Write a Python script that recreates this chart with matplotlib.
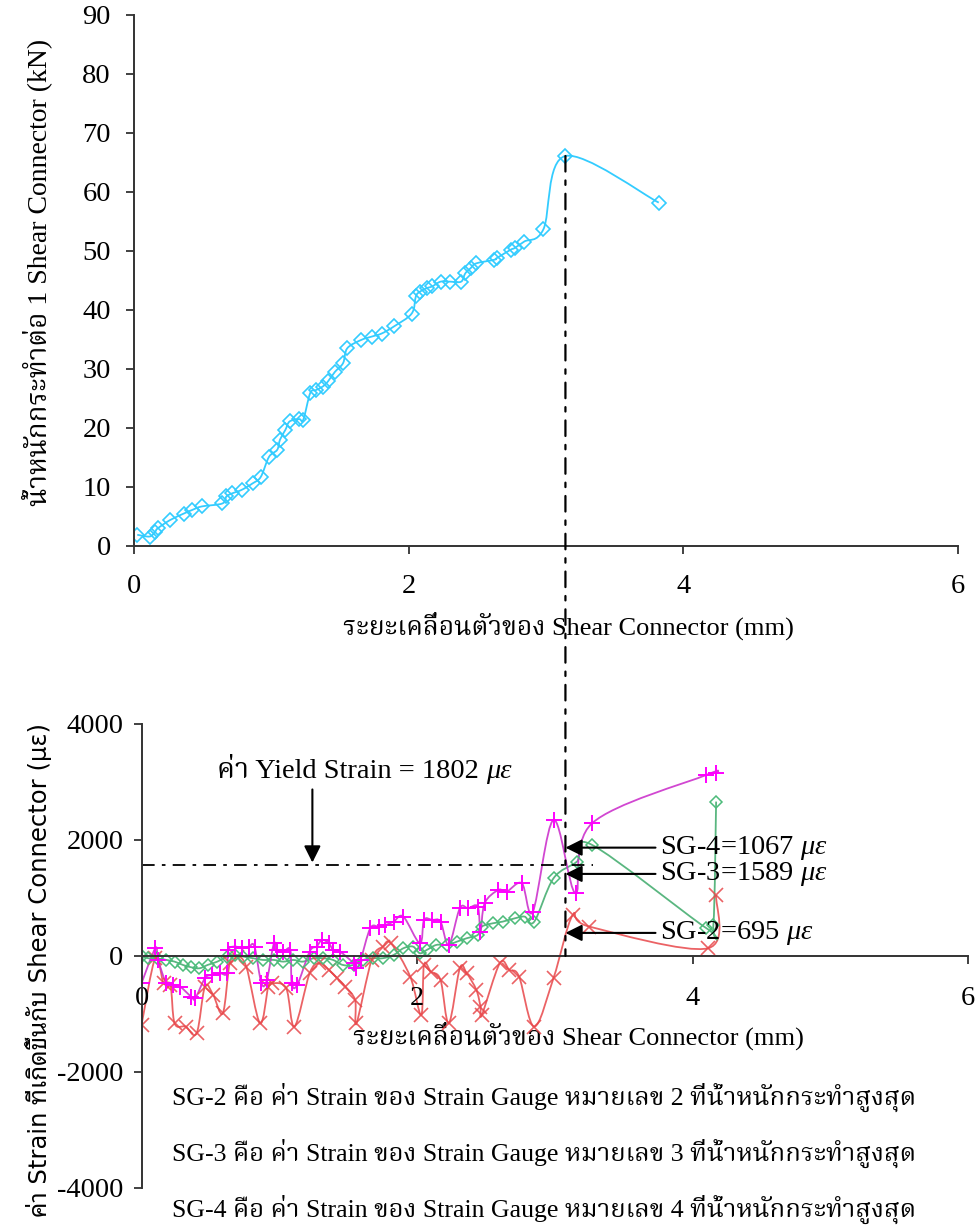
import numpy as np
import matplotlib.pyplot as plt
from matplotlib.path import Path
from matplotlib.patches import PathPatch, ConnectionPatch
from matplotlib.transforms import blended_transform_factory

plt.rcParams['axes.unicode_minus'] = False
SERIF = ['Liberation Serif', 'Noto Serif Thai', 'DejaVu Serif']
SANS = ['DejaVu Sans', 'Noto Sans Thai Looped', 'Noto Sans Thai']
plt.rcParams['font.family'] = SERIF
plt.rcParams['mathtext.fontset'] = 'custom'
plt.rcParams['mathtext.rm'] = 'Liberation Serif'
plt.rcParams['mathtext.it'] = 'Liberation Serif:italic'

# ---------------- datos: carga vs desplazamiento ----------------
disp_top = [0.02, 0.11, 0.15, 0.17, 0.26, 0.36, 0.42, 0.49, 0.64, 0.67, 0.71, 0.78,
            0.86, 0.92, 0.98, 1.04, 1.06, 1.10, 1.13, 1.20, 1.23, 1.28, 1.32, 1.37,
            1.41, 1.46, 1.52, 1.55, 1.65, 1.73, 1.80, 1.89, 2.02, 2.05, 2.08, 2.13,
            2.17, 2.23, 2.30, 2.38, 2.41, 2.45, 2.49, 2.62, 2.64, 2.74, 2.77, 2.84,
            2.98, 3.14, 3.82]
load_top = [1.9, 1.6, 2.4, 3.0, 4.4, 5.5, 6.1, 6.7, 7.2, 8.4, 8.9, 9.5,
            10.6, 11.7, 15.1, 16.3, 18.0, 19.7, 21.1, 21.5, 21.4, 25.9, 26.4, 27.0,
            27.9, 29.5, 31.0, 33.5, 34.9, 35.5, 36.0, 37.2, 39.4, 42.3, 43.1, 43.7,
            44.0, 44.8, 44.8, 44.8, 46.2, 47.1, 47.9, 48.5, 48.8, 50.2, 50.5, 51.6,
            53.7, 66.1, 58.2]

# ---------------- datos: strain gauges ----------------
sg4_x = [0.00, 0.10, 0.12, 0.18, 0.23, 0.28, 0.36, 0.39, 0.46, 0.51, 0.57, 0.62,
         0.63, 0.68, 0.73, 0.78, 0.82, 0.87, 0.91, 0.96, 0.98, 1.03, 1.08, 1.09,
         1.13, 1.22, 1.27, 1.31, 1.36, 1.39, 1.44, 1.54, 1.56, 1.59, 1.66, 1.72,
         1.77, 1.83, 1.90, 2.02, 2.05, 2.11, 2.17, 2.23, 2.31, 2.37, 2.44, 2.46,
         2.49, 2.59, 2.65, 2.76, 2.84, 2.99, 3.15, 3.27, 4.10, 4.17]
sg4_y = [-471, 132, -69, -471, -500, -529, -701, -730, -385, -328, -299, -299,
         103, 161, 132, 161, 161, -471, -414, 218, 103, 75, 103, -471,
         -500, 75, 161, 276, 218, 103, 75, -126, -213, -69, 477, 506,
         534, 591, 678, 218, 621, 621, 591, 190, 822, 822, 851, 420,
         908, 1138, 1109, 1253, 764, 2345, 1081, 2288, 3121, 3160]

sg3_x = [0.00, 0.05, 0.11, 0.18, 0.24, 0.30, 0.36, 0.42, 0.48, 0.55, 0.62, 0.68,
         0.74, 0.81, 0.88, 0.96, 1.03, 1.10, 1.17, 1.25, 1.32, 1.39, 1.46, 1.54,
         1.61, 1.68, 1.75, 1.83, 1.90, 1.97, 2.02, 2.07, 2.14, 2.22, 2.29, 2.36,
         2.44, 2.47, 2.55, 2.62, 2.71, 2.78, 2.85, 2.99, 3.16, 3.27, 4.10, 4.15,
         4.17]
sg3_y = [0, -40, -40, -69, -98, -155, -195, -213, -155, -98, -11, 17,
         -11, -40, -69, -69, -98, -69, -98, -40, -40, -69, -155, -155,
         -69, -40, -40, 17, 132, 161, 46, 103, 190, 190, 247, 305,
         362, 506, 563, 591, 649, 678, 591, 1339, 1626, 1914, 477, 534,
         2661]

sg2_x = [0.00, 0.10, 0.16, 0.21, 0.24, 0.32, 0.40, 0.46, 0.52, 0.59, 0.64, 0.69,
         0.76, 0.86, 0.92, 0.95, 1.05, 1.11, 1.22, 1.29, 1.36, 1.42, 1.48, 1.55,
         1.56, 1.67, 1.75, 1.81, 1.95, 2.03, 2.05, 2.10, 2.17, 2.23, 2.31, 2.36,
         2.43, 2.46, 2.47, 2.60, 2.67, 2.74, 2.85, 2.99, 3.13, 3.25, 4.11, 4.17]
sg2_y = [-1190, -35, -471, -500, -1161, -1218, -1333, -529, -672, -988, -126, -11,
         -184, -1161, -529, -471, -557, -1218, -299, -126, -241, -385, -529, -759,
         -1161, -69, 161, 218, -356, -1017, -155, -270, -414, -1161, -213, -299,
         -586, -873, -1017, -126, -241, -356, -1218, -380, 707, 506, 132, 1052]

x_ticks = [0, 2, 4, 6]
top_yticks = [0, 10, 20, 30, 40, 50, 60, 70, 80, 90]
bot_yticks = [-4000, -2000, 0, 2000, 4000]

yield_line = 1570        # posición dibujada de la línea de fluencia
sg_arrow_y = [1867, 1414, 397]
sg_labels = ['SG-4=1067 $\\mathit{\\mu\\varepsilon}$',
             'SG-3=1589 $\\mathit{\\mu\\varepsilon}$',
             'SG-2=695 $\\mathit{\\mu\\varepsilon}$']
notes = ['SG-2 คือ ค่า Strain ของ Strain Gauge หมายเลข 2 ที่น้ำหนักกระทำสูงสุด',
         'SG-3 คือ ค่า Strain ของ Strain Gauge หมายเลข 3 ที่น้ำหนักกระทำสูงสุด',
         'SG-4 คือ ค่า Strain ของ Strain Gauge หมายเลข 4 ที่น้ำหนักกระทำสูงสุด']


# -------- curva suavizada estilo Excel (Catmull-Rom -> Bezier) --------
def curva_suave(ax, x, y, color, lw=1.3, alpha=1.0):
    p = np.column_stack([x, y]).astype(float)
    verts = [p[0]]
    codes = [Path.MOVETO]
    n = len(p)
    for i in range(n - 1):
        p0 = p[i - 1] if i > 0 else p[i]
        p3 = p[i + 2] if i + 2 < n else p[i + 1]
        c1 = p[i] + (p[i + 1] - p0) / 6
        c2 = p[i + 1] - (p3 - p[i]) / 6
        verts += [c1, c2, p[i + 1]]
        codes += [Path.CURVE4] * 3
    ax.add_patch(PathPatch(Path(verts, codes), fill=False, edgecolor=color,
                           lw=lw, alpha=alpha))


fig = plt.figure(figsize=(9.76, 12.28), dpi=100)
ax1 = fig.add_axes([0.1378, 0.5554, 0.8437, 0.4324])
ax2 = fig.add_axes([0.1450, 0.0326, 0.8471, 0.3779])

for ax in (ax1, ax2):
    for s in ('top', 'right'):
        ax.spines[s].set_visible(False)
    for s in ('left', 'bottom'):
        ax.spines[s].set_color('#333333')
        ax.spines[s].set_linewidth(1.4)
    ax.tick_params(direction='out', length=6, width=1.3, color='#333333',
                   labelsize=20.5)
    ax.set_xlim(0, 6)
    ax.set_xticks(x_ticks)

# ---------------- gráfico superior ----------------
ax1.set_ylim(0, 90)
ax1.set_yticks(top_yticks)
ax1.tick_params(axis='x', pad=14)
ax1.tick_params(axis='y', pad=11)
curva_suave(ax1, disp_top, load_top, '#33CCFF', lw=1.3)
ax1.plot(disp_top, load_top, linestyle='none', marker='D', markersize=7,
         markerfacecolor='none', markeredgecolor='#33CCFF', markeredgewidth=1.2)
ax1.set_xlabel('ระยะเคลื่อนตัวของ Shear Connector (mm)', fontsize=19)
ax1.xaxis.set_label_coords(0.527, -0.124)
ax1.set_ylabel('น้ำหนักกระทำต่อ 1 Shear Connector (kN)', fontsize=20)
ax1.yaxis.set_label_coords(-0.1, 0.515)

# ---------------- gráfico inferior ----------------
ax2.set_ylim(-4000, 4000)
ax2.set_yticks(bot_yticks)
ax2.spines['bottom'].set_position(('data', 0))
ax2.tick_params(axis='x', pad=16)
ax2.tick_params(axis='y', pad=7)

curva_suave(ax2, sg2_x, sg2_y, '#E8474A', lw=1.3, alpha=0.85)
ax2.plot(sg2_x, sg2_y, linestyle='none', marker='x', markersize=10,
         markeredgecolor='#E8474A', markeredgewidth=1.2, alpha=0.85)
curva_suave(ax2, sg3_x, sg3_y, '#3DAA6A', lw=1.3, alpha=0.85)
ax2.plot(sg3_x, sg3_y, linestyle='none', marker='D', markersize=6,
         markerfacecolor='none', markeredgecolor='#4CBB7A', markeredgewidth=1.1)
curva_suave(ax2, sg4_x, sg4_y, '#CC33CC', lw=1.3, alpha=0.9)
ax2.plot(sg4_x, sg4_y, linestyle='none', marker='+', markersize=11,
         markeredgecolor='#FF00FF', markeredgewidth=1.4)

ax2.set_xlabel('ระยะเคลื่อนตัวของ Shear Connector (mm)', fontsize=19)
ax2.xaxis.set_label_coords(0.528, 0.358)
ax2.set_ylabel('ค่า Strain ที่เกิดขึ้นกับ Shear Connector (με)', fontsize=17.5,
               family=SANS)
ax2.yaxis.set_label_coords(-0.108, 0.47)

# línea vertical en la carga máxima
i_max = int(np.argmax(load_top))
x_peak = disp_top[i_max]
trans_b = blended_transform_factory(ax1.transData, ax2.transData)
con = ConnectionPatch(xyA=(x_peak, load_top[i_max]), coordsA=ax1.transData,
                      xyB=(x_peak, 0), coordsB=trans_b,
                      linestyle=(0, (7, 4, 2, 4)), color='black', lw=1.6)
fig.add_artist(con)

x_line_b = ax2.transData.inverted().transform(
    ax1.transData.transform((x_peak, 0)))[0]

# línea de fluencia
ax2.plot([0, x_line_b + 0.2], [yield_line, yield_line], color='black', lw=1.3,
         linestyle=(0, (7, 4, 2, 4)))
ax2.annotate('', xy=(1.24, yield_line + 40), xytext=(1.24, 2870),
             arrowprops=dict(arrowstyle='-|>', color='black', lw=1.5,
                             mutation_scale=25, shrinkA=0, shrinkB=0))
t_yield = ax2.text(0.55, 3070, 'ค่า Yield Strain = 1802 ', fontsize=20.5,
                   va='baseline', ha='left')
ax2.annotate('με', xy=(1, 0), xycoords=t_yield, fontsize=20.5, style='italic',
             va='bottom', ha='left')

for yy, lab in zip(sg_arrow_y, sg_labels):
    ax2.annotate('', xy=(x_line_b, yy), xytext=(3.73, yy),
                 arrowprops=dict(arrowstyle='-|>', color='black', lw=1.5,
                                 mutation_scale=25, shrinkA=0, shrinkB=0))
    ax2.text(3.76, yy, lab, fontsize=20.5, va='center', ha='left')

for k, txt in enumerate(notes):
    fig.text(172 / 976, 1 - (1097 + 56 * k) / 1228, txt, fontsize=18.5,
             va='center', ha='left')

fig.savefig('out.png', dpi=100)
